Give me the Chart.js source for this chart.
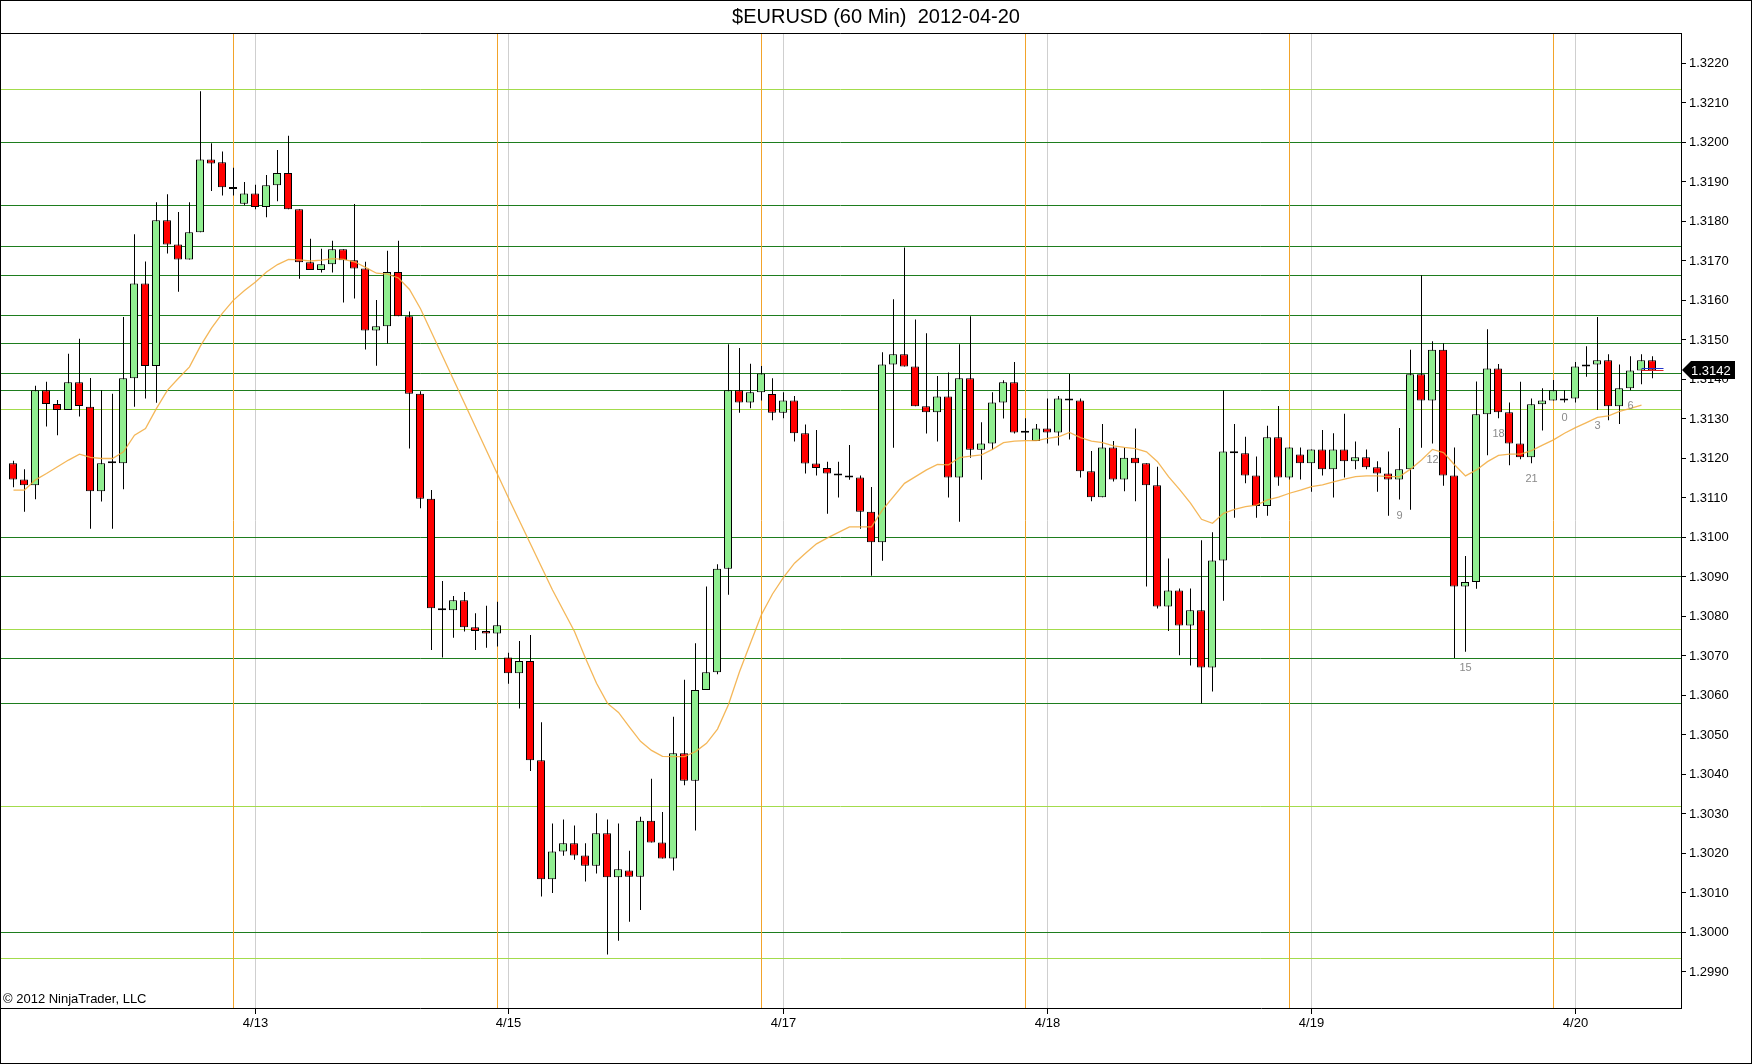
<!DOCTYPE html>
<html>
<head>
<meta charset="utf-8">
<title>$EURUSD (60 Min) 2012-04-20</title>
<script src="https://cdn.jsdelivr.net/npm/chart.js@4.4.1/dist/chart.umd.min.js"></script>
<style>
html,body{margin:0;padding:0;background:#fff;}
canvas{display:block;}
</style>
</head>
<body>
<canvas id="c" width="1752" height="1064"></canvas>
<script>
// ---------------- DATA ----------------
const opens = [
1.31188,1.31147,1.31132,1.31373,1.31338,1.31323,1.31393,1.31331,1.31117,1.31188,
1.31188,1.31403,1.31643,1.31434,1.31803,1.31742,1.31704,1.31773,1.31957,1.31950,
1.31887,1.31845,1.31871,1.31837,1.31892,1.31923,1.31831,1.31697,1.31677,1.31692,
1.31730,1.31702,1.31681,1.31524,1.31535,1.31672,1.31560,1.31364,1.31098,1.30821,
1.30816,1.30841,1.30773,1.30763,1.30757,1.30696,1.30656,1.30687,1.30436,1.30135,
1.30205,1.30226,1.30195,1.30169,1.30251,1.30140,1.30157,1.30141,1.30283,1.30228,
1.30187,1.30454,1.30384,1.30614,1.30659,1.30921,1.31373,1.31342,1.31368,1.31363,
1.31316,1.31347,1.31264,1.31187,1.31176,1.31162,1.31157,1.31152,1.31065,1.30988,
1.31438,1.31464,1.31433,1.31332,1.31317,1.31357,1.31152,1.31403,1.31222,1.31238,
1.31342,1.31393,1.31266,1.31244,1.31276,1.31266,1.31352,1.31347,1.31168,1.31102,
1.31228,1.31147,1.31202,1.31188,1.31132,1.30825,1.30866,1.30777,1.30816,1.30671,
1.30942,1.31218,1.31213,1.31157,1.31080,1.31254,1.31152,1.31210,1.31188,1.31223,
1.31173,1.31223,1.31193,1.31203,1.31178,1.31162,1.31147,1.31173,1.31413,1.31347,
1.31475,1.31157,1.30876,1.30887,1.31312,1.31428,1.31317,1.31238,1.31203,1.31337,
1.31347,1.31347,1.31352,1.31433,1.31438,1.31449,1.31332,1.31378,1.31423,1.31449];

const highs = [
1.31194,1.31173,1.31384,1.31394,1.31348,1.31465,1.31503,1.31404,1.31373,1.31364,
1.31558,1.31768,1.31699,1.31849,1.31869,1.31824,1.31849,1.32130,1.31998,1.31977,
1.31936,1.31900,1.31893,1.31918,1.31981,1.32017,1.31831,1.31756,1.31731,1.31751,
1.31730,1.31844,1.31698,1.31601,1.31726,1.31751,1.31572,1.31370,1.31120,1.30890,
1.30852,1.30862,1.30808,1.30827,1.30837,1.30708,1.30738,1.30753,1.30532,1.30276,
1.30286,1.30271,1.30226,1.30302,1.30286,1.30276,1.30207,1.30293,1.30389,1.30305,
1.30546,1.30640,1.30732,1.30876,1.30932,1.31489,1.31480,1.31440,1.31434,1.31403,
1.31368,1.31358,1.31286,1.31272,1.31192,1.31192,1.31234,1.31157,1.31128,1.31469,
1.31603,1.31734,1.31552,1.31517,1.31409,1.31418,1.31489,1.31560,1.31292,1.31368,
1.31398,1.31444,1.31302,1.31287,1.31352,1.31358,1.31414,1.31352,1.31219,1.31287,
1.31244,1.31228,1.31276,1.31188,1.31179,1.30947,1.30871,1.30871,1.30993,1.31013,
1.31372,1.31287,1.31255,1.31205,1.31283,1.31333,1.31228,1.31228,1.31223,1.31272,
1.31264,1.31313,1.31243,1.31223,1.31193,1.31218,1.31277,1.31475,1.31664,1.31497,
1.31492,1.31228,1.30953,1.31395,1.31527,1.31439,1.31342,1.31394,1.31352,1.31378,
1.31399,1.31373,1.31444,1.31484,1.31558,1.31464,1.31438,1.31459,1.31464,1.31459];

const lows = [
1.31127,1.31065,1.31097,1.31281,1.31259,1.31323,1.31306,1.31022,1.31091,1.31022,
1.31122,1.31331,1.31352,1.31341,1.31719,1.31622,1.31704,1.31773,1.31877,1.31866,
1.31866,1.31841,1.31831,1.31811,1.31851,1.31831,1.31655,1.31677,1.31671,1.31671,
1.31595,1.31605,1.31476,1.31435,1.31491,1.31560,1.31225,1.31074,1.30715,1.30696,
1.30746,1.30762,1.30715,1.30721,1.30724,1.30630,1.30567,1.30409,1.30091,1.30100,
1.30194,1.30184,1.30129,1.30149,1.29944,1.29979,1.30027,1.30057,1.30228,1.30187,
1.30157,1.30373,1.30258,1.30614,1.30654,1.30855,1.31316,1.31327,1.31347,1.31297,
1.31302,1.31243,1.31162,1.31157,1.31060,1.31101,1.31146,1.31022,1.30903,1.30941,
1.31227,1.31433,1.31332,1.31263,1.31243,1.31101,1.31040,1.31202,1.31146,1.31222,
1.31301,1.31263,1.31247,1.31244,1.31238,1.31233,1.31248,1.31152,1.31092,1.31102,
1.31142,1.31117,1.31092,1.30876,1.30820,1.30763,1.30702,1.30676,1.30580,1.30610,
1.30840,1.31050,1.31137,1.31050,1.31055,1.31131,1.31147,1.31147,1.31116,1.31157,
1.31101,1.31152,1.31173,1.31173,1.31116,1.31055,1.31096,1.31070,1.31227,1.31238,
1.31131,1.30695,1.30711,1.30870,1.31208,1.31302,1.31183,1.31198,1.31188,1.31271,
1.31347,1.31342,1.31342,1.31407,1.31323,1.31297,1.31287,1.31373,1.31388,1.31403];

const closes = [
1.31147,1.31132,1.31373,1.31338,1.31323,1.31393,1.31333,1.31117,1.31188,1.31188,
1.31403,1.31643,1.31434,1.31803,1.31742,1.31704,1.31773,1.31957,1.31947,1.31887,
1.31882,1.31871,1.31837,1.31892,1.31923,1.31831,1.31697,1.31677,1.31692,1.31730,
1.31702,1.31681,1.31524,1.31535,1.31672,1.31560,1.31364,1.31098,1.30821,1.30816,
1.30841,1.30773,1.30763,1.30757,1.30778,1.30656,1.30687,1.30436,1.30135,1.30205,
1.30226,1.30195,1.30169,1.30251,1.30140,1.30160,1.30141,1.30283,1.30228,1.30187,
1.30454,1.30384,1.30614,1.30659,1.30921,1.31373,1.31342,1.31368,1.31415,1.31316,
1.31347,1.31264,1.31187,1.31176,1.31162,1.31157,1.31152,1.31065,1.30988,1.31438,
1.31464,1.31433,1.31332,1.31317,1.31357,1.31152,1.31403,1.31222,1.31238,1.31342,
1.31393,1.31266,1.31265,1.31276,1.31266,1.31352,1.31347,1.31168,1.31102,1.31228,
1.31147,1.31202,1.31188,1.31132,1.30825,1.30866,1.30777,1.30816,1.30671,1.30942,
1.31218,1.31213,1.31157,1.31080,1.31254,1.31152,1.31228,1.31188,1.31223,1.31173,
1.31223,1.31193,1.31203,1.31178,1.31162,1.31147,1.31173,1.31413,1.31347,1.31475,
1.31157,1.30876,1.30887,1.31312,1.31428,1.31317,1.31238,1.31203,1.31337,1.31347,
1.31373,1.31352,1.31433,1.31438,1.31449,1.31332,1.31378,1.31423,1.31449,1.31423];

// moving-average line (bar index, value)
const maIdx = [
0,1,2,3,4,5,6,7,8,9,
10,11,12,13,14,15,16,17,18,19,
20,21,22,23,24,25,26,27,28,29,
30,31,32,33,34,35,36,37,
41,45,49,51,
52,53,54,55,56,57,58,59,
60,61,62,63,64,65,66,67,68,69,
70,71,72,73,74,75,76,
78,79,
81,82,83,84,85,86,87,88,89,
90,91,92,93,94,95,96,97,98,99,
100,101,102,103,104,105,106,107,108,109,
110,111,112,113,114,115,116,117,118,119,
120,121,122,123,124,125,126,127,128,129,
130,131,132,133,134,135,136,137,138,139,
140,141,142,143,144,145,146,147,148];
const maVals = [
1.31120,1.31120,1.31146,1.31162,1.31179,1.31196,1.31211,1.31203,1.31200,1.31200,
1.31217,1.31259,1.31276,1.31327,1.31373,1.31403,1.31432,1.31485,1.31530,1.31568,
1.31601,1.31625,1.31647,1.31672,1.31691,1.31704,1.31703,1.31700,1.31702,1.31706,
1.31704,1.31698,1.31684,1.31669,1.31667,1.31657,1.31628,1.31579,
1.31340,1.31100,1.30867,1.30762,
1.30694,1.30631,1.30580,1.30557,1.30520,1.30484,1.30461,1.30446,
1.30445,1.30445,1.30458,1.30479,1.30515,1.30577,1.30660,1.30733,1.30805,1.30857,
1.30899,1.30935,1.30960,1.30984,1.30999,1.31013,1.31027,
1.31027,1.31070,
1.31137,1.31154,1.31171,1.31185,1.31184,1.31202,1.31206,1.31209,1.31223,
1.31240,1.31244,1.31245,1.31245,1.31251,1.31255,1.31266,1.31253,1.31244,1.31240,
1.31232,1.31228,1.31225,1.31217,1.31192,1.31154,1.31122,1.31087,1.31046,1.31036,
1.31061,1.31071,1.31078,1.31082,1.31095,1.31102,1.31112,1.31120,1.31129,1.31133,
1.31141,1.31148,1.31154,1.31156,1.31156,1.31154,1.31154,1.31173,1.31196,1.31223,
1.31215,1.31184,1.31156,1.31171,1.31192,1.31208,1.31211,1.31211,1.31220,1.31234,
1.31247,1.31264,1.31278,1.31291,1.31304,1.31308,1.31319,1.31327,1.31335];

// x-axis date ticks (bar index) and labels
const dayTickIdx = [22, 45, 70, 94, 118, 142];
const dayTickLabels = ['4/13', '4/15', '4/17', '4/18', '4/19', '4/20'];
// session-break bars (orange verticals)
const sessionIdx = [20, 44, 68, 92, 116, 140];
// y-axis tick labels
const yTickLabels = ['1.2990','1.3000','1.3010','1.3020','1.3030','1.3040','1.3050','1.3060',
  '1.3070','1.3080','1.3090','1.3100','1.3110','1.3120','1.3130','1.3140','1.3150','1.3160',
  '1.3170','1.3180','1.3190','1.3200','1.3210','1.3220'];
// horizontal price levels
const darkLevels = [1.32000,1.31842,1.31737,1.31665,1.31563,1.31492,1.31416,1.31373,1.31000,1.30902,1.30694,1.30580,1.30002];
const lightLevels = [1.32136,1.31325,1.30768,1.30321,1.29935];
// small hour labels under bars
const hourLabelIdx = [126, 129, 132, 135, 138, 141, 144, 147];
const hourLabels = ['9', '12', '15', '18', '21', '0', '3', '6'];
// quote lines on the last bar (ask, last)
const quoteLines = [1.31428, 1.31423];

// ---------------- LAYOUT CONSTANTS ----------------
const PX = 11;                 // pixels per bar
const PLOT_W = 1681;
const X_MIN = -13.5 / PX;
const X_MAX = X_MIN + PLOT_W / PX;
const XB_MIN = -13 / PX;
const XB_MAX = XB_MIN + PLOT_W / PX;
const Y_MAX = 1.322772;
const Y_MIN = 1.298088;
const FONT = 'Arial, "Liberation Sans", sans-serif';

const idx = opens.map((_, i) => i);
const wickData = idx.map(i => ({x: i, y: [lows[i], highs[i]]}));
const bodyData = idx.map(i => ({x: i, y: [Math.min(opens[i], closes[i]), Math.max(opens[i], closes[i])]}));
const bodyColors = idx.map(i => closes[i] >= opens[i] ? '#90EE90' : '#FF0000');
const maData = maIdx.map((v, k) => ({x: v, y: maVals[k]}));

Chart.defaults.font.family = FONT;

const overlay = {
  id: 'overlay',
  beforeDatasetsDraw(chart) {
    const {ctx, chartArea: a, scales: {x, y}} = chart;
    ctx.save();
    ctx.lineWidth = 1;
    const hl = (levels, color) => {
      ctx.strokeStyle = color;
      levels.forEach(p => {
        const py = Math.round(y.getPixelForValue(p)) + 0.5;
        ctx.beginPath(); ctx.moveTo(a.left, py); ctx.lineTo(a.right, py); ctx.stroke();
      });
    };
    hl(lightLevels, '#A3DC4C');
    hl(darkLevels, '#1E7D1E');
    ctx.strokeStyle = '#F2A32A';
    sessionIdx.forEach(i => {
      const px = Math.round(x.getPixelForValue(i) - 0.5) + 0.5;
      ctx.beginPath(); ctx.moveTo(px, a.top); ctx.lineTo(px, a.bottom); ctx.stroke();
    });
    ctx.restore();
  },
  afterDatasetsDraw(chart) {
    const {ctx, scales: {x, y}} = chart;
    ctx.save();
    ctx.fillStyle = '#8a8a8a';
    ctx.font = '11px ' + FONT;
    ctx.textAlign = 'center';
    ctx.textBaseline = 'middle';
    hourLabelIdx.forEach((i, k) => {
      ctx.fillText(hourLabels[k], x.getPixelForValue(i), y.getPixelForValue(lows[i]) + 16);
    });
    // quote lines on last bar
    const last = closes.length - 1;
    const cx = x.getPixelForValue(last);
    const cols = ['#2233CC', '#DD2222'];
    quoteLines.forEach((p, k) => {
      const py = Math.round(y.getPixelForValue(p)) + 0.5;
      ctx.strokeStyle = cols[k]; ctx.lineWidth = 1;
      ctx.beginPath(); ctx.moveTo(cx - 11, py); ctx.lineTo(cx + 11, py); ctx.stroke();
    });
    ctx.restore();
  },
  afterDraw(chart) {
    const {ctx, chartArea: a, scales: {y}} = chart;
    ctx.save();
    ctx.strokeStyle = '#000';
    ctx.lineWidth = 1;
    // plot frame (left & top)
    ctx.beginPath();
    ctx.moveTo(a.left + 0.5, a.bottom); ctx.lineTo(a.left + 0.5, a.top + 0.5); ctx.lineTo(a.right, a.top + 0.5);
    ctx.stroke();
    // outer frame
    ctx.strokeRect(0.5, 0.5, chart.width - 1, chart.height - 1);
    // copyright
    ctx.fillStyle = '#000';
    ctx.font = '13px ' + FONT;
    ctx.textAlign = 'left';
    ctx.textBaseline = 'middle';
    ctx.fillText('\u00A9 2012 NinjaTrader, LLC', a.left + 3, a.bottom - 9);
    // last price marker
    const last = closes.length - 1;
    const py = Math.round(y.getPixelForValue(closes[last]));
    const ax = a.right + 1;
    ctx.fillStyle = '#000';
    ctx.beginPath();
    ctx.moveTo(ax, py);
    ctx.lineTo(ax + 9, py - 9);
    ctx.lineTo(ax + 53, py - 9);
    ctx.lineTo(ax + 53, py + 9);
    ctx.lineTo(ax + 9, py + 9);
    ctx.closePath();
    ctx.fill();
    ctx.fillStyle = '#fff';
    ctx.fillText(closes[last].toFixed(4), ax + 9, py + 1);
    ctx.restore();
  }
};

new Chart(document.getElementById('c'), {
  type: 'bar',
  data: {
    datasets: [
      {
        type: 'line',
        label: 'MA',
        data: maData,
        xAxisID: 'x',
        yAxisID: 'y',
        borderColor: 'rgba(242,170,60,0.85)',
        borderWidth: 1.3,
        pointRadius: 0,
        tension: 0,
        fill: false,
        order: 0
      },
      {
        label: 'body',
        data: bodyData,
        xAxisID: 'xb',
        yAxisID: 'y',
        backgroundColor: bodyColors,
        borderColor: '#000',
        borderWidth: 1,
        borderSkipped: false,
        barThickness: 8,
        minBarLength: 2,
        inflateAmount: 0,
        grouped: false,
        order: 1
      },
      {
        label: 'wick',
        data: wickData,
        xAxisID: 'x',
        yAxisID: 'y',
        backgroundColor: '#000',
        borderWidth: 0,
        barThickness: 1,
        inflateAmount: 0,
        grouped: false,
        order: 2
      }
    ]
  },
  options: {
    responsive: false,
    animation: false,
    devicePixelRatio: 1,
    layout: {padding: 0},
    events: [],
    plugins: {
      legend: {display: false},
      tooltip: {enabled: false},
      title: {
        display: true,
        text: '$EURUSD (60 Min)  2012-04-20',
        color: '#000',
        font: {size: 20, weight: 'normal', family: FONT, lineHeight: 1.2},
        padding: {top: 5, bottom: 4}
      }
    },
    scales: {
      x: {
        type: 'linear',
        axis: 'x',
        position: 'bottom',
        min: X_MIN,
        max: X_MAX,
        offset: false,
        grid: {offset: false, color: '#CFCFCF', lineWidth: 1, drawOnChartArea: true, drawTicks: true, tickLength: 6, tickColor: '#000'},
        border: {display: true, color: '#000', width: 1},
        ticks: {
          color: '#000',
          font: {size: 13, family: FONT},
          padding: 2,
          maxRotation: 0,
          autoSkip: false,
          callback: (v, i) => dayTickLabels[i]
        },
        afterBuildTicks: s => { s.ticks = dayTickIdx.map(v => ({value: v})); },
        afterFit: s => { s.height = 56; }
      },
      xb: {
        type: 'linear',
        axis: 'x',
        position: 'bottom',
        display: false,
        min: XB_MIN,
        max: XB_MAX,
        offset: false,
        grid: {offset: false}
      },
      y: {
        type: 'linear',
        position: 'right',
        min: Y_MIN,
        max: Y_MAX,
        beginAtZero: false,
        grid: {drawOnChartArea: false, drawTicks: true, tickLength: 5, tickColor: '#000'},
        border: {display: true, color: '#000', width: 1},
        ticks: {
          color: '#000',
          font: {size: 13, family: FONT},
          padding: 3,
          autoSkip: false,
          callback: (v, i) => yTickLabels[i]
        },
        afterBuildTicks: s => { s.ticks = yTickLabels.map(t => ({value: parseFloat(t)})); },
        afterFit: s => { s.width = 71; }
      }
    }
  },
  plugins: [overlay]
});
</script>
</body>
</html>
